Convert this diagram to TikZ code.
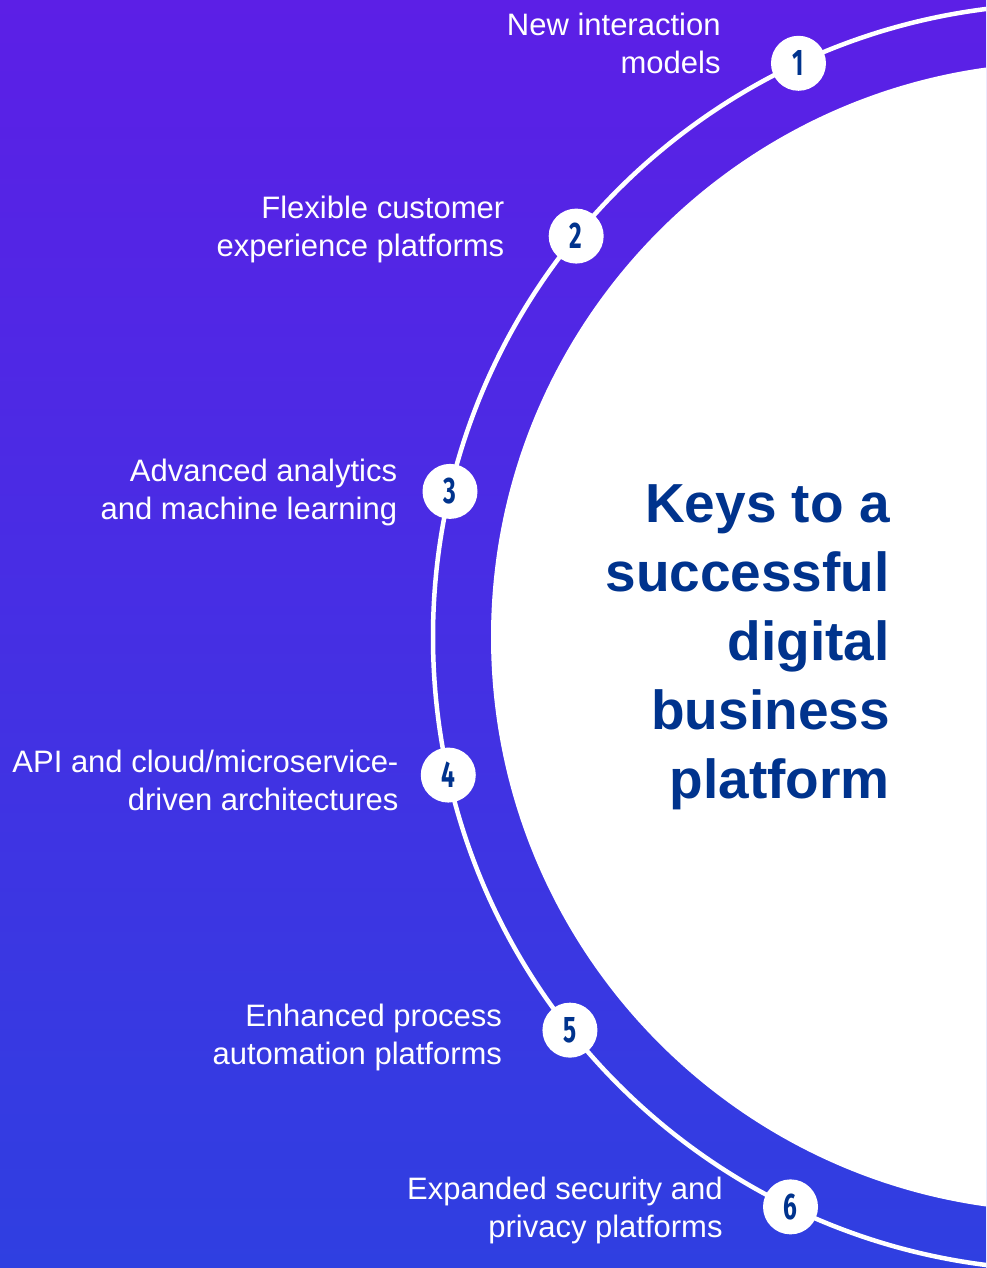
\documentclass[tikz,border=0pt]{standalone}
\usepackage{fontspec}
\setmainfont{Liberation Sans}
\newfontfamily\numfont{Fira Sans}[FakeStretch=0.66]
\usepackage{xcolor}
\usepackage{tikz}
\usetikzlibrary{positioning}
\definecolor{kpmgblue}{HTML}{00338D}
\definecolor{violettop}{HTML}{5C1FE6}
\definecolor{bluebottom}{HTML}{2F3FE1}

\begin{document}
\begin{tikzpicture}[x=1pt, y=1pt,
	keynum/.style={circle, fill=white, minimum size=55pt, inner sep=0pt, text=kpmgblue, font=\numfont\bfseries\fontsize{37}{37}\selectfont},
	keylabel/.style={align=right, text=white, inner sep=0pt, font=\fontsize{31}{38}\selectfont},
	keytitle/.style={align=right, text=kpmgblue, inner sep=0pt, font=\bfseries\fontsize{55}{69}\selectfont}]
	\useasboundingbox (0,0) rectangle (986,1268);
	\begin{scope}
		\clip (0,0) rectangle (986,1268);
		\shade[top color=violettop, bottom color=bluebottom] (0,0) rectangle (986,1268);
		\coordinate (hub) at (1066,631);
		\draw[white, line width=4.5pt] (hub) circle (633);
		\fill[white] (hub) circle (575);
		% numbered keys on the ring
		\foreach \ang [count=\i] in {115,140.7,166.7,192.6,218.4,244.2}
			\node[keynum] (k\i) at ([shift={(\ang:633)}]hub) {\i};
	\end{scope}
	\node[keylabel, left=50pt of k1, yshift=20pt] (lbl1) {New interaction\\models};
	\node[keylabel, left=44pt of k2, yshift=7pt] (lbl2) {Flexible customer\\experience platforms};
	\node[keylabel, left=25pt of k3, yshift=-1pt] (lbl3) {Advanced analytics\\and machine learning};
	\node[keylabel, left=22pt of k4, yshift=-5pt] (lbl4) {API and cloud/microservice-\\driven architectures};
	\node[keylabel, left=40pt of k5, yshift=-7pt] (lbl5) {Enhanced process\\automation platforms};
	\node[keylabel, left=40pt of k6, yshift=-4pt] (lbl6) {Expanded security and\\privacy platforms};
	\node[keytitle, anchor=east] (title) at (890,621) {Keys to a\\successful\\digital\\business\\platform};
\end{tikzpicture}
\end{document}
